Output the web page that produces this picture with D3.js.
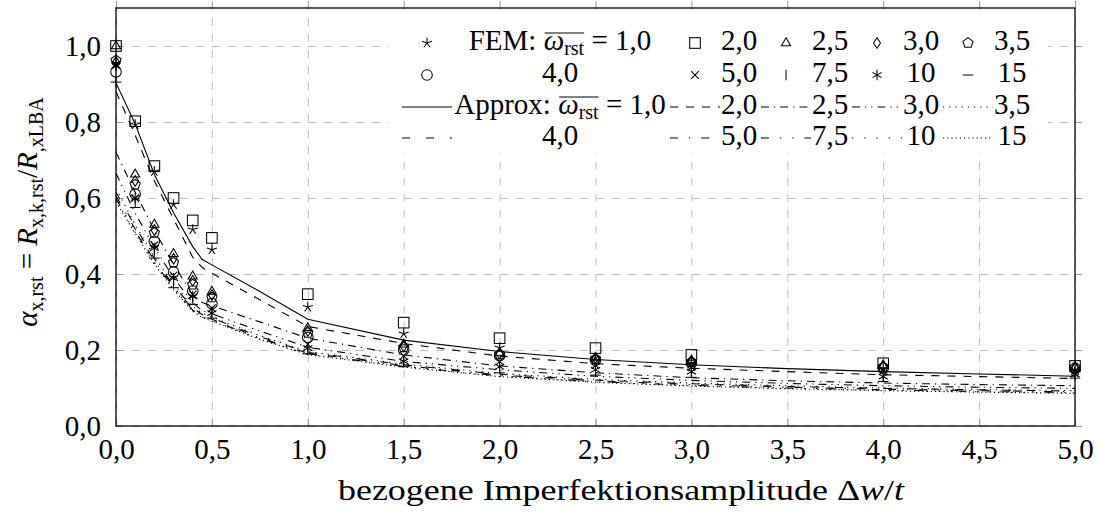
<!DOCTYPE html>
<html><head><meta charset="utf-8">
<script src="https://cdn.jsdelivr.net/npm/d3@7"></script>
<style>
body{margin:0;background:#fff}
text{font-family:"Liberation Serif","Times New Roman",serif;fill:#000}
</style>
</head><body>
<svg id="c" width="1101" height="517"></svg>
<script>
// ---------- data ----------
const xTicks = [0,0.5,1,1.5,2,2.5,3,3.5,4,4.5,5];
const yTicks = [0,0.2,0.4,0.6,0.8,1.0];
const omegaLabels = ["1,0","2,0","2,5","3,0","3,5","4,0","5,0","7,5","10","15"];

// FEM results
const xFEM = [0,0.1,0.2,0.3,0.4,0.5,1,1.5,2,2.5,3,4,5];
const fem_1_0 = [0.955,0.793,0.670,0.583,0.517,0.464,0.313,0.243,0.206,0.180,0.166,0.150,0.142];
const fem_2_0 = [1.000,0.802,0.684,0.600,0.541,0.495,0.347,0.272,0.231,0.205,0.187,0.165,0.158];
const fem_2_5 = [1.000,0.662,0.530,0.453,0.394,0.354,0.258,0.215,0.192,0.180,0.173,0.160,0.155];
const fem_3_0 = [0.958,0.645,0.516,0.440,0.382,0.345,0.250,0.210,0.190,0.178,0.170,0.157,0.153];
const fem_3_5 = [0.962,0.635,0.508,0.430,0.372,0.338,0.245,0.207,0.188,0.176,0.168,0.155,0.154];
const fem_4_0 = [0.932,0.610,0.486,0.405,0.355,0.322,0.233,0.200,0.185,0.173,0.165,0.152,0.151];
const fem_5_0 = [0.950,0.600,0.476,0.396,0.346,0.310,0.215,0.185,0.170,0.160,0.155,0.145,0.145];
const fem_7_5 = [0.905,0.588,0.458,0.380,0.333,0.300,0.200,0.170,0.152,0.145,0.140,0.133,0.133];
const fem_10  = [0.948,0.600,0.468,0.389,0.341,0.297,0.205,0.170,0.156,0.148,0.143,0.130,0.136];
const fem_15  = [0.905,0.575,0.442,0.364,0.320,0.284,0.190,0.156,0.140,0.134,0.128,0.117,0.126];

// approximation curves
const xApprox = [0,0.1,0.2,0.3,0.4,0.45,0.5,0.75,1,1.5,2,2.5,3,3.5,4,4.5,5];
const approx_1_0 = [0.903,0.795,0.662,0.561,0.472,0.438,0.424,0.354,0.281,0.226,0.196,0.175,0.161,0.151,0.143,0.137,0.131];
const approx_2_0 = [0.880,0.765,0.645,0.545,0.444,0.417,0.402,0.332,0.262,0.217,0.184,0.164,0.152,0.143,0.135,0.130,0.125];
const approx_2_5 = [0.720,0.615,0.515,0.425,0.345,0.325,0.316,0.274,0.231,0.187,0.158,0.140,0.127,0.119,0.113,0.109,0.106];
const approx_3_0 = [0.665,0.560,0.470,0.390,0.325,0.303,0.295,0.250,0.207,0.170,0.148,0.131,0.120,0.112,0.106,0.102,0.099];
const approx_3_5 = [0.625,0.530,0.445,0.375,0.315,0.297,0.287,0.238,0.196,0.163,0.138,0.123,0.113,0.106,0.100,0.096,0.093];
const approx_4_0 = [0.615,0.525,0.440,0.370,0.311,0.293,0.284,0.235,0.194,0.161,0.136,0.121,0.111,0.104,0.099,0.095,0.092];
const approx_5_0 = [0.605,0.518,0.435,0.366,0.308,0.290,0.281,0.232,0.192,0.159,0.134,0.119,0.109,0.102,0.097,0.093,0.090];
const approx_7_5 = [0.598,0.513,0.431,0.363,0.305,0.288,0.279,0.230,0.190,0.157,0.132,0.117,0.107,0.100,0.095,0.091,0.088];
const approx_10  = [0.594,0.510,0.428,0.361,0.303,0.286,0.277,0.229,0.189,0.156,0.131,0.116,0.106,0.099,0.094,0.090,0.087];
const approx_15  = [0.590,0.507,0.426,0.359,0.302,0.285,0.276,0.228,0.188,0.155,0.130,0.115,0.105,0.098,0.093,0.089,0.086];

const femSeries = [fem_1_0,fem_2_0,fem_2_5,fem_3_0,fem_3_5,fem_4_0,fem_5_0,fem_7_5,fem_10,fem_15];
const femMarks  = ["star","square","triangle","diamond","pentagon","circle","x","vbar","asterisk","hbar"];
const approxSeries = [approx_1_0,approx_2_0,approx_2_5,approx_3_0,approx_3_5,approx_4_0,approx_5_0,approx_7_5,approx_10,approx_15];
const approxDash = ["", "8,8", "8,5,1.2,5", "8,5,1.2,5,1.2,5", "1.2,5", "8,16", "8,11,1.2,11", "8,11,1.2,11,1.2,11", "1.2,11", "1.2,3"];

// ---------- layout ----------
const svg = d3.select("#c");
const L=116, R=1075, T=8, B=426;
const x = d3.scaleLinear().domain([0,5]).range([L,R]);
const y = d3.scaleLinear().domain([0,1.1]).range([B,T]);
const fmt = d => d.toFixed(1).replace(".", ",");
const FS = 29;
const FF = "Liberation Serif";

// grid
const gx = svg.append("g").attr("transform",`translate(0,${B})`)
  .call(d3.axisBottom(x).tickValues(xTicks).tickSize(-(B-T)).tickFormat(""));
gx.select(".domain").remove();
gx.selectAll("line").attr("stroke","#bdbdbd").attr("stroke-width",1).attr("stroke-dasharray","8,8");
const gy = svg.append("g").attr("transform",`translate(${L},0)`)
  .call(d3.axisLeft(y).tickValues(yTicks).tickSize(-(R-L)).tickFormat(""));
gy.select(".domain").remove();
gy.selectAll("line").attr("stroke","#bdbdbd").attr("stroke-width",1).attr("stroke-dasharray","8,8");

// inner ticks (grey)
[[d3.axisBottom, B, 7],[d3.axisTop, T, -7]].forEach(([ax,pos,s])=>{
  const g = svg.append("g").attr("transform",`translate(0,${pos})`)
    .call(ax(x).tickValues(xTicks).tickSize(-s).tickFormat(""));
  g.select(".domain").remove(); g.selectAll("line").attr("stroke","#9a9a9a");
});
[[d3.axisLeft, L, 7],[d3.axisRight, R, -7]].forEach(([ax,pos,s])=>{
  const g = svg.append("g").attr("transform",`translate(${pos},0)`)
    .call(ax(y).tickValues(yTicks).tickSize(-s).tickFormat(""));
  g.select(".domain").remove(); g.selectAll("line").attr("stroke","#9a9a9a");
});

// tick labels
const xl = svg.append("g").attr("transform",`translate(0,${B})`)
  .call(d3.axisBottom(x).tickValues(xTicks).tickSize(0).tickPadding(12).tickFormat(fmt));
xl.select(".domain").remove();
xl.attr("font-family",FF);
xl.selectAll("text").attr("font-size",FS).attr("font-family",FF);
const yl = svg.append("g").attr("transform",`translate(${L},0)`)
  .call(d3.axisLeft(y).tickValues(yTicks).tickSize(0).tickPadding(15).tickFormat(fmt));
yl.select(".domain").remove();
yl.attr("font-family",FF);
yl.selectAll("text").attr("font-size",FS).attr("font-family",FF);

// approx lines
const line = d3.line().x((d,i)=>x(xApprox[i])).y(d=>y(d)).curve(d3.curveLinear);
approxSeries.forEach((s,k)=>{
  svg.append("path").attr("d",line(s)).attr("fill","none").attr("stroke","#000")
    .attr("stroke-width",1.1).attr("stroke-dasharray",approxDash[k]||null);
});

// markers
const MR = 5.3;
function mark(g, type, cx, cy, r=MR){
  const p = g.append("g").attr("transform",`translate(${cx},${cy})`)
    .attr("fill","none").attr("stroke","#000").attr("stroke-width",1.05);
  const poly = n => d3.range(n).map(i=>{const a=-Math.PI/2+i*2*Math.PI/n;return [r*Math.cos(a),r*Math.sin(a)];});
  if(type==="star"){ poly(5).forEach(([a,b])=>p.append("line").attr("x1",0).attr("y1",0).attr("x2",a).attr("y2",b)); }
  else if(type==="asterisk"){ [90,30,150].forEach(d=>{const a=d*Math.PI/180;p.append("line").attr("x1",-r*Math.cos(a)).attr("y1",-r*Math.sin(a)).attr("x2",r*Math.cos(a)).attr("y2",r*Math.sin(a));}); }
  else if(type==="square"){ p.append("rect").attr("x",-r).attr("y",-r).attr("width",2*r).attr("height",2*r); }
  else if(type==="triangle"){ p.append("polygon").attr("points",poly(3).map(q=>q.join(",")).join(" ")); }
  else if(type==="pentagon"){ p.append("polygon").attr("points",poly(5).map(q=>q.join(",")).join(" ")); }
  else if(type==="diamond"){ p.append("polygon").attr("points",`0,${-r} ${0.65*r},0 0,${r} ${-0.65*r},0`); }
  else if(type==="circle"){ p.append("circle").attr("r",r); }
  else if(type==="x"){ const q=r*0.72; p.append("path").attr("d",`M${-q},${-q}L${q},${q}M${-q},${q}L${q},${-q}`); }
  else if(type==="vbar"){ p.append("line").attr("x1",0).attr("x2",0).attr("y1",-r).attr("y2",r); }
  else if(type==="hbar"){ p.append("line").attr("y1",0).attr("y2",0).attr("x1",-r).attr("x2",r); }
}
const gm = svg.append("g");
femSeries.forEach((s,k)=>{ s.forEach((v,i)=>mark(gm, femMarks[k], x(xFEM[i]), y(v))); });

// frame
svg.append("rect").attr("x",L).attr("y",T).attr("width",R-L).attr("height",B-T)
  .attr("fill","none").attr("stroke","#000").attr("stroke-width",1.3);

// legend
const lg = svg.append("g").attr("font-family",FF);
lg.append("rect").attr("x",389).attr("y",18).attr("width",659).attr("height",135).attr("fill","#fff");
const symX = [427, 695, 786, 877, 968];
const txtX = [560, 739, 830, 921, 1012];
const rowY = [43, 75, 107, 138];
function omegaText(cx, by, prefix){
  const t = lg.append("text").attr("x",cx).attr("y",by).attr("text-anchor","middle").attr("font-size",FS).attr("font-family",FF);
  t.append("tspan").text(prefix+" ");
  t.append("tspan").attr("font-style","italic").text("ω");
  t.append("tspan").attr("font-size",20).attr("dy",5).text("rst");
  t.append("tspan").attr("dy",-5).text(" = 1,0");
  const n = t.node();
  const i0 = prefix.length+1, i1 = i0+3;
  const e0 = n.getExtentOfChar(i0), e1 = n.getExtentOfChar(i1);
  lg.append("line").attr("x1",e0.x+1).attr("x2",e1.x+e1.width).attr("y1",by-17).attr("y2",by-17)
    .attr("stroke","#000").attr("stroke-width",1);
}
for(let r=0;r<4;r++){
  for(let c=0;c<5;c++){
    const k = (r%2)*5 + c;
    const by = rowY[r]+7;
    if(r<2){ mark(lg, femMarks[k], symX[c], rowY[r]); }
    else {
      lg.append("line").attr("x1",symX[c]-25).attr("x2",symX[c]+25).attr("y1",rowY[r]).attr("y2",rowY[r])
        .attr("stroke","#000").attr("stroke-width",1.1).attr("stroke-dasharray",approxDash[k]||null);
    }
    if(c===0 && r%2===0){ omegaText(txtX[0], by, r===0?"FEM:":"Approx:"); }
    else {
      lg.append("text").attr("x",txtX[c]).attr("y",by).attr("text-anchor","middle").attr("font-size",FS).attr("font-family",FF).text(omegaLabels[k]);
    }
  }
}

// axis titles
const xt = svg.append("text").attr("x",621).attr("y",500).attr("text-anchor","middle")
  .attr("font-size",30).attr("font-family",FF)
  .attr("textLength",566).attr("lengthAdjust","spacingAndGlyphs");
xt.append("tspan").text("bezogene Imperfektionsamplitude Δ");
xt.append("tspan").attr("font-style","italic").text("w");
xt.append("tspan").text("/");
xt.append("tspan").attr("font-style","italic").text("t");

const yt = svg.append("text").attr("transform","translate(37,212) rotate(-90)").attr("text-anchor","middle")
  .attr("font-size",FS).attr("font-family",FF);
yt.append("tspan").attr("font-style","italic").text("α");
yt.append("tspan").attr("font-size",20).attr("dy",6).text("x,rst");
yt.append("tspan").attr("dy",-6).text(" = ");
yt.append("tspan").attr("font-style","italic").text("R");
yt.append("tspan").attr("font-size",20).attr("dy",6).text("x,k,rst");
yt.append("tspan").attr("dy",-6).text("/");
yt.append("tspan").attr("font-style","italic").text("R");
yt.append("tspan").attr("font-size",20).attr("dy",6).text(",xLBA");
</script>
</body></html>
